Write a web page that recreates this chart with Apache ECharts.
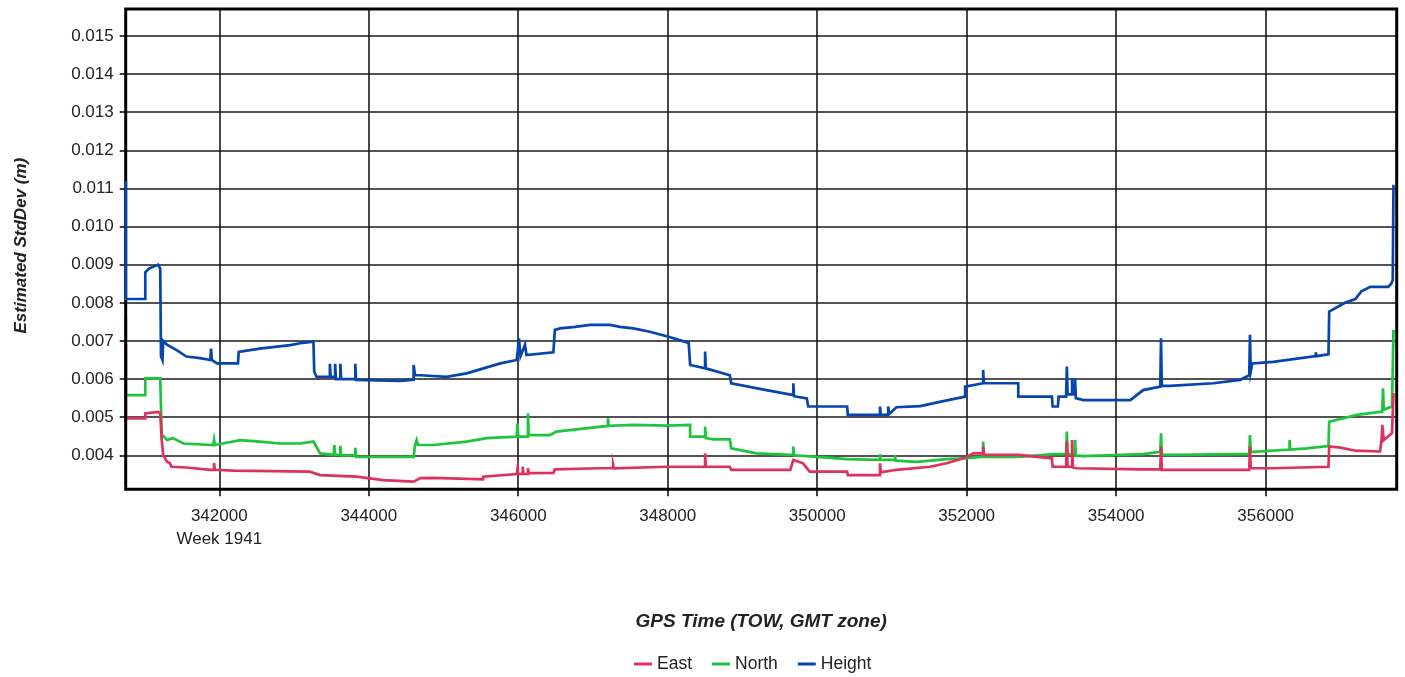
<!DOCTYPE html>
<html>
<head>
<meta charset="utf-8">
<script src="https://cdn.jsdelivr.net/npm/echarts@6/dist/echarts.min.js"></script>
<style>
html,body{margin:0;padding:0;background:#fff;}
#chart{width:1405px;height:677px;}
</style>
</head>
<body>
<div id="chart"></div>
<script>
// ---- data (GPS TOW seconds, estimated std dev in metres) ----
const seriesNames = ['East', 'North', 'Height'];
const xTicks = [342000, 344000, 346000, 348000, 350000, 352000, 354000, 356000];
const yTicks = [0.004, 0.005, 0.006, 0.007, 0.008, 0.009, 0.010, 0.011, 0.012, 0.013, 0.014, 0.015];
const weekLabel = 'Week 1941';

const heightData = [
[340750,0.0112],[340750,0.0081],[341010,0.0081],[341010,0.0088],[341060,0.0089],[341180,0.0090],[341210,0.0089],
[341220,0.0066],[341240,0.0065],[341250,0.0070],[341300,0.0069],[341430,0.00676],[341560,0.00659],[341740,0.00655],
[341880,0.0065],[341890,0.0068],[341900,0.0065],[341970,0.00641],[342250,0.00641],[342260,0.00671],[342540,0.0068],
[342950,0.00689],[343080,0.00694],[343260,0.00698],[343270,0.0062],[343300,0.00606],[343480,0.00606],[343480,0.0064],
[343490,0.00606],[343550,0.00606],[343550,0.0064],[343560,0.0060],[343620,0.0060],[343620,0.0064],[343630,0.0060],
[343820,0.0060],[343820,0.0064],[343830,0.00598],[344420,0.00595],[344600,0.00598],[344600,0.00637],[344620,0.0061],
[344690,0.0061],[345040,0.00606],[345310,0.00615],[345760,0.00641],[345980,0.0065],[346010,0.00707],[346030,0.0066],
[346090,0.0069],[346110,0.00663],[346470,0.0067],[346490,0.00729],[346560,0.00733],[346760,0.00737],[346960,0.00742],
[347230,0.00742],[347360,0.00737],[347540,0.00733],[347760,0.00724],[348010,0.00711],[348280,0.00695],[348300,0.00637],
[348500,0.00628],[348500,0.00672],[348510,0.00628],[348830,0.0061],[348850,0.00589],[349320,0.00571],[349680,0.00558],
[349680,0.00589],[349690,0.00555],[349860,0.00549],[349880,0.00528],[350400,0.00528],[350410,0.00506],[350840,0.00506],
[350840,0.00528],[350850,0.00506],[350950,0.00506],[350950,0.00528],[350960,0.00508],[351060,0.00526],[351380,0.00529],
[351640,0.0054],[351980,0.00554],[351980,0.0058],[352220,0.00589],[352220,0.00624],[352230,0.00589],[352690,0.00589],
[352690,0.00554],[353140,0.00554],[353150,0.00528],[353220,0.00528],[353230,0.00554],[353330,0.00554],[353340,0.00633],
[353350,0.0056],[353410,0.0056],[353410,0.00602],[353420,0.0056],[353450,0.0056],[353450,0.00602],[353460,0.0055],
[353560,0.00545],[354190,0.00545],[354360,0.00571],[354590,0.0058],[354600,0.00707],[354610,0.00582],[354720,0.00582],
[355300,0.00589],[355660,0.00598],[355780,0.0061],[355790,0.00716],[355800,0.0062],[355820,0.00641],[356100,0.00645],
[356670,0.0066],[356670,0.0067],[356680,0.0066],[356770,0.00663],[356840,0.00665],[356850,0.00777],[357060,0.0080],
[357200,0.0081],[357280,0.0083],[357400,0.00842],[357640,0.00842],[357680,0.0085],[357700,0.0086],[357710,0.0111]
];

const northData = [
[340750,0.00764],[340750,0.00558],[341010,0.00558],[341010,0.00602],[341210,0.00602],[341230,0.00453],[341260,0.00449],
[341300,0.0044],[341380,0.00445],[341520,0.00431],[341920,0.00427],[341930,0.0044],[341940,0.00427],[342280,0.0044],
[342540,0.00436],[342810,0.00431],[343080,0.00431],[343260,0.00436],[343350,0.00405],[343530,0.00401],[343540,0.00427],
[343550,0.00401],[343620,0.00401],[343620,0.00425],[343630,0.004],[343820,0.004],[343820,0.0042],[343830,0.00396],
[344600,0.00396],[344620,0.00427],[344640,0.0044],[344660,0.00427],[344860,0.00427],[345310,0.00436],[345580,0.00445],
[345980,0.00449],[345990,0.00484],[346000,0.00449],[346130,0.00449],[346130,0.0051],[346140,0.00453],[346420,0.00453],
[346470,0.00458],[346510,0.00462],[346870,0.0047],[347200,0.00477],[347200,0.00497],[347210,0.00477],[347540,0.0048],
[347990,0.00478],[348300,0.0048],[348300,0.00449],[348500,0.00449],[348500,0.00475],[348510,0.00445],[348610,0.00442],
[348830,0.00442],[348850,0.00418],[349190,0.00405],[349640,0.00401],[349680,0.00401],[349680,0.00423],[349690,0.004],
[350000,0.00396],[350400,0.0039],[350840,0.00388],[350840,0.00403],[350850,0.00388],[351040,0.00388],[351040,0.004],
[351050,0.00386],[351330,0.00383],[351730,0.0039],[351960,0.00392],[351980,0.00396],[352220,0.00396],[352220,0.00436],
[352230,0.00396],[352690,0.00396],[353180,0.00403],[353330,0.00403],[353340,0.00462],[353350,0.00403],[353450,0.00403],
[353450,0.0044],[353460,0.004],[353560,0.00398],[354360,0.00403],[354590,0.00409],[354600,0.00458],[354610,0.00401],
[354770,0.00401],[355660,0.00403],[355780,0.00403],[355790,0.00453],[355800,0.00409],[355830,0.00409],[356320,0.00415],
[356320,0.0044],[356330,0.00415],[356550,0.00418],[356840,0.00424],[356850,0.00488],[357220,0.00506],[357530,0.00514],
[357560,0.00514],[357570,0.00576],[357580,0.0052],[357690,0.00528],[357710,0.00729]
];

const eastData = [
[340750,0.0069],[340750,0.00497],[341010,0.00497],[341010,0.0051],[341180,0.00514],[341210,0.0051],[341230,0.0044],
[341250,0.00401],[341300,0.00383],[341340,0.00379],[341360,0.0037],[341560,0.00368],[341880,0.00362],[341930,0.00362],
[341930,0.0038],[341940,0.00362],[342190,0.0036],[343210,0.00357],[343350,0.00348],[343840,0.00344],[344190,0.00335],
[344600,0.00331],[344690,0.0034],[344860,0.00341],[345530,0.00337],[345530,0.00344],[345980,0.00351],[345990,0.00365],
[346000,0.00351],[346060,0.00351],[346060,0.0037],[346070,0.00351],[346130,0.00351],[346130,0.00366],[346140,0.00353],
[346470,0.00354],[346490,0.00363],[347090,0.00366],[347270,0.00366],[347270,0.00375],[347280,0.00366],[347990,0.0037],
[348300,0.0037],[348500,0.0037],[348500,0.00405],[348510,0.0037],[348830,0.0037],[348850,0.00362],[349640,0.00362],
[349680,0.00388],[349810,0.00379],[349900,0.00357],[350400,0.00357],[350410,0.00348],[350840,0.00348],[350840,0.00379],
[350850,0.00355],[351060,0.00362],[351510,0.0037],[351730,0.00379],[351960,0.00392],[352090,0.00405],[352220,0.00405],
[352220,0.00423],[352230,0.00401],[352690,0.00401],[353140,0.00392],[353150,0.0037],[353330,0.0037],[353340,0.00436],
[353350,0.0037],[353410,0.0037],[353410,0.0044],[353420,0.00368],[353470,0.00366],[354320,0.00363],[354590,0.00363],
[354600,0.00423],[354610,0.00362],[355780,0.00362],[355790,0.00423],[355800,0.00366],[356100,0.00366],[356840,0.0037],
[356850,0.00423],[357000,0.0042],[357200,0.00412],[357530,0.0041],[357550,0.0044],[357560,0.0048],[357580,0.0044],
[357690,0.00458],[357710,0.00563]
];

// ---- axis extents ----
const X_MIN = 340748, X_MAX = 357753;
const Y_MIN = 0.003108, Y_MAX = 0.015708;

// ---- layout ----
const L = 125.7, T = 9, W = 1271, H = 480.3;
const pxX = v => L + (v - X_MIN) / (X_MAX - X_MIN) * W;
const pxY = v => T + (Y_MAX - v) / (Y_MAX - Y_MIN) * H;
const xT0 = xTicks[0], xT1 = xTicks[xTicks.length - 1];
const yT0 = yTicks[0], yT1 = yTicks[yTicks.length - 1];

const FONT = 'Liberation Sans, Arial, sans-serif';
const TXT = '#222';
const colors = {East: '#e0305f', North: '#1ec43c', Height: '#0645ad'};

const chart = echarts.init(document.getElementById('chart'), null, {renderer: 'canvas'});
const option = {
  backgroundColor: '#fff',
  animation: false,
  textStyle: {fontFamily: FONT},
  grid: [
    {left: L, top: T, width: W, height: H, show: true, borderColor: '#000', borderWidth: 3, backgroundColor: 'transparent', z: 5},
    {left: L, top: pxY(yT1), width: W, height: pxY(yT0) - pxY(yT1), show: false},
    {left: pxX(xT0), top: T, width: pxX(xT1) - pxX(xT0), height: H, show: false}
  ],
  xAxis: [
    {gridIndex: 0, type: 'value', min: X_MIN, max: X_MAX,
     axisLine: {show: false}, axisTick: {show: false}, axisLabel: {show: false}, splitLine: {show: false},
     name: 'GPS Time (TOW, GMT zone)', nameLocation: 'middle', nameGap: 123,
     nameTextStyle: {fontFamily: FONT, fontSize: 19, fontWeight: 'bold', fontStyle: 'italic', color: TXT}},
    {gridIndex: 1, type: 'value', min: X_MIN, max: X_MAX, show: false},
    {gridIndex: 2, type: 'value', min: xT0, max: xT1, interval: 2000,
     axisLine: {show: false},
     axisTick: {show: true, length: 7, lineStyle: {color: '#000', width: 1.5}},
     axisLabel: {margin: 16, fontSize: 17, color: TXT, fontFamily: FONT, lineHeight: 23,
       formatter: v => (v === xT0 ? String(v) + '\n' + weekLabel : String(v))},
     splitLine: {show: true, lineStyle: {color: '#1a1a1a', width: 1.6}}}
  ],
  yAxis: [
    {gridIndex: 0, type: 'value', min: Y_MIN, max: Y_MAX, show: false},
    {gridIndex: 1, type: 'value', min: yT0, max: yT1, interval: 0.001,
     axisLine: {show: false},
     axisTick: {show: true, length: 6, lineStyle: {color: '#000', width: 1.5}},
     axisLabel: {margin: 12, fontSize: 17, color: TXT, fontFamily: FONT, formatter: v => v.toFixed(3)},
     splitLine: {show: true, lineStyle: {color: '#1a1a1a', width: 1.6}},
     name: 'Estimated StdDev (m)', nameLocation: 'middle', nameGap: 96,
     nameTextStyle: {fontFamily: FONT, fontSize: 17, fontWeight: 'bold', fontStyle: 'italic', color: TXT}},
    {gridIndex: 2, type: 'value', min: Y_MIN, max: Y_MAX, show: false}
  ],
  legend: {
    left: 634, top: 655, padding: 0,
    itemWidth: 18, itemHeight: 3, itemGap: 20,
    icon: 'rect',
    textStyle: {fontFamily: FONT, fontSize: 17.5, color: TXT},
    data: seriesNames
  },
  series: [
    {name: 'North', type: 'line', xAxisIndex: 0, yAxisIndex: 0, data: northData, showSymbol: false, z: 3,
     color: colors.North, lineStyle: {width: 2.7, color: colors.North, join: 'miter'}},
    {name: 'East', type: 'line', xAxisIndex: 0, yAxisIndex: 0, data: eastData, showSymbol: false, z: 4,
     color: colors.East, lineStyle: {width: 2.7, color: colors.East, join: 'miter'}},
    {name: 'Height', type: 'line', xAxisIndex: 0, yAxisIndex: 0, data: heightData, showSymbol: false, z: 5,
     color: colors.Height, lineStyle: {width: 2.7, color: colors.Height, join: 'miter'}}
  ]
};
chart.setOption(option);
</script>
</body>
</html>
